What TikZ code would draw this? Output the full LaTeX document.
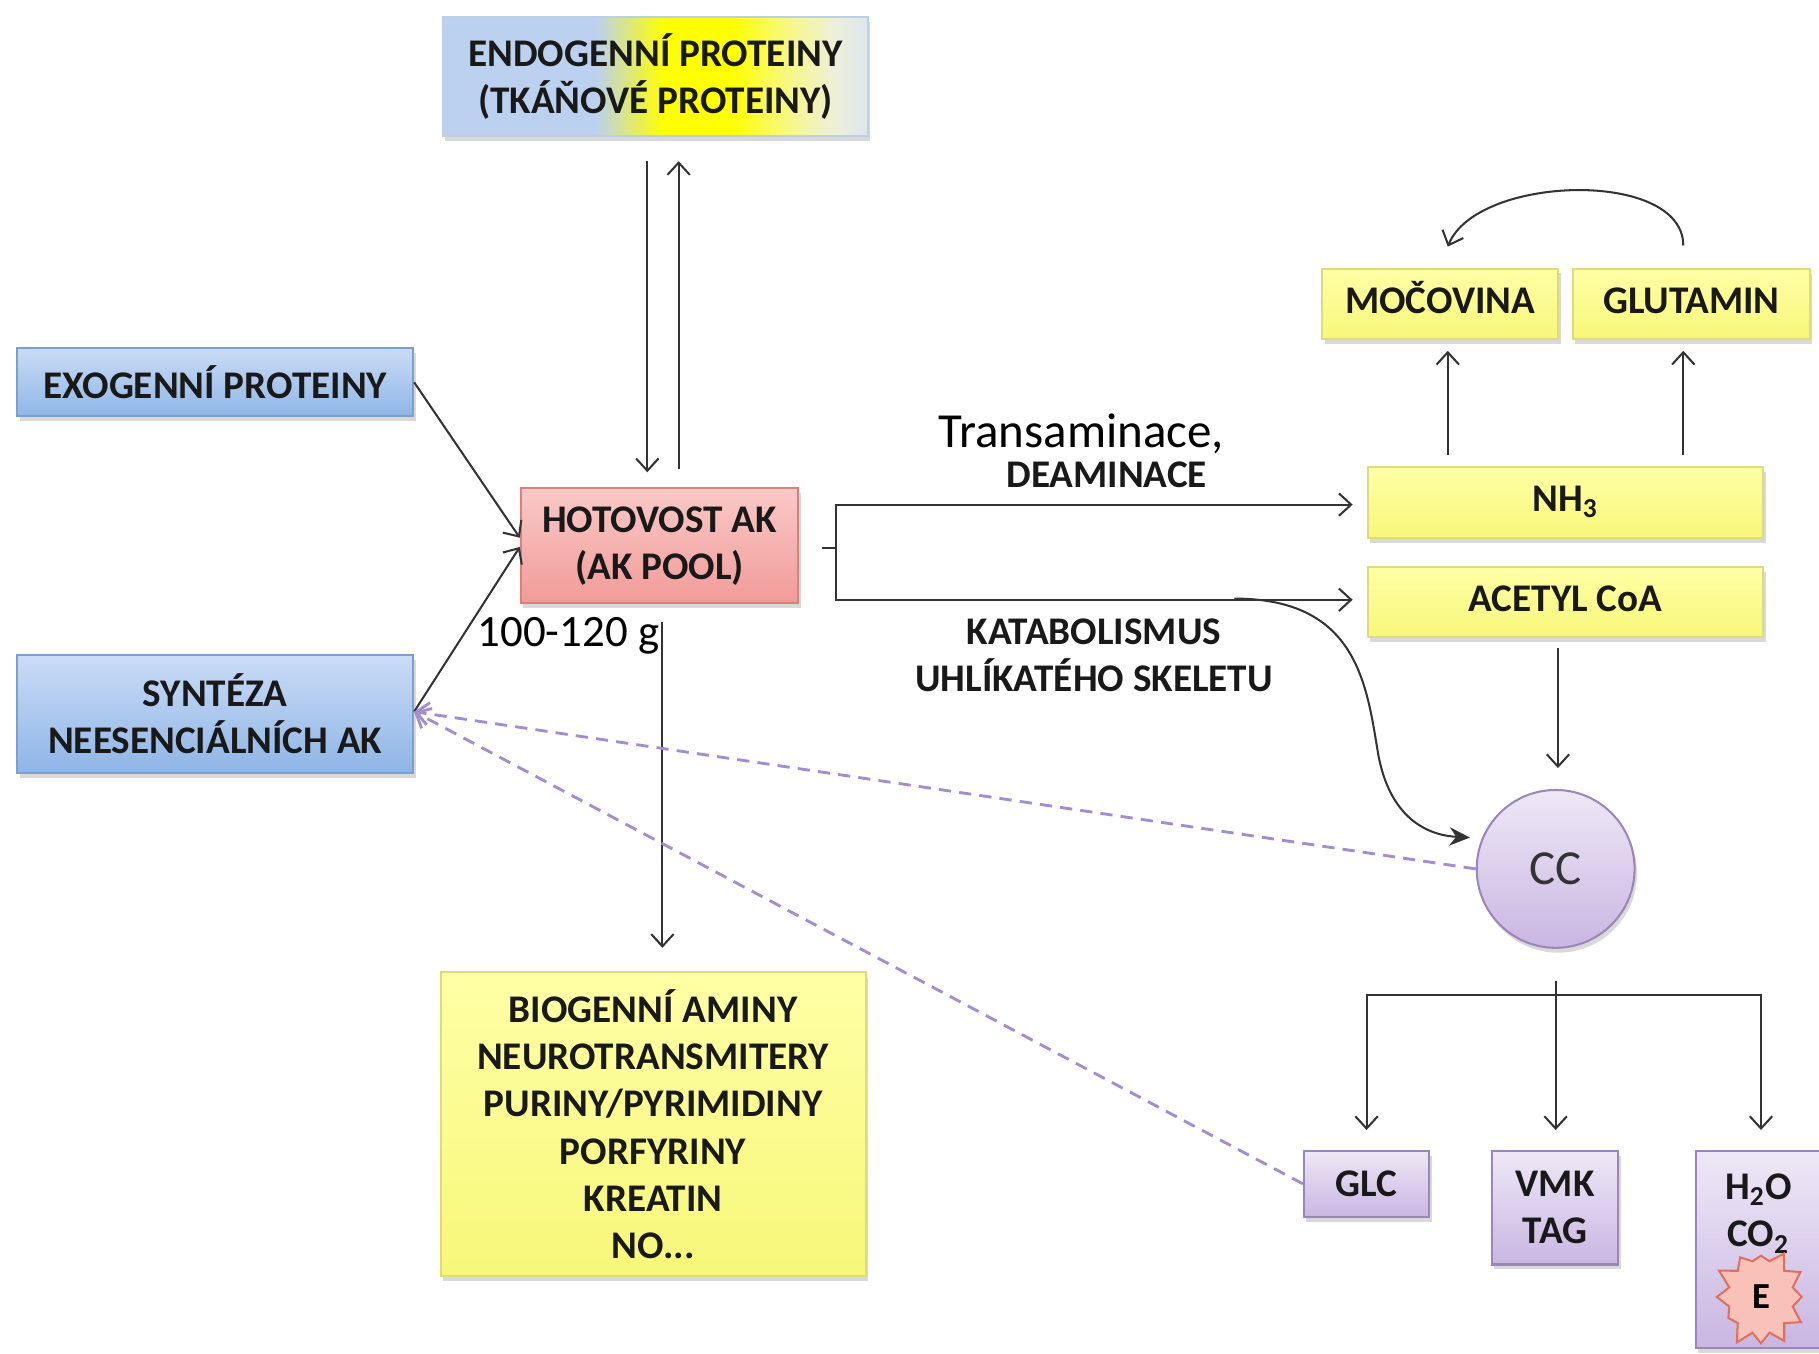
\documentclass[tikz,border=0pt]{standalone}
\usepackage{fontspec}
\setmainfont{Carlito}
\usetikzlibrary{calc,shadows,shapes.symbols,arrows.meta}

\definecolor{bluetop}{HTML}{CADCF6}
\definecolor{bluebot}{HTML}{8FB5E6}
\definecolor{blueedge}{HTML}{7C9FCB}
\definecolor{pinktop}{HTML}{F9C9C7}
\definecolor{pinkbot}{HTML}{F19B98}
\definecolor{pinkedge}{HTML}{D9807C}
\definecolor{yeltop}{HTML}{FFFFA6}
\definecolor{yelbot}{HTML}{F7F77A}
\definecolor{yeledge}{HTML}{DCDC7A}
\definecolor{purtop}{HTML}{EEE8F6}
\definecolor{purbot}{HTML}{C9B6E2}
\definecolor{puredge}{HTML}{9A86BA}
\definecolor{dashpur}{HTML}{A48CD2}
\definecolor{endoblue}{HTML}{BCD1F0}
\definecolor{endoyel}{HTML}{FFFF00}
\definecolor{endoyeltwo}{HTML}{F7F78C}
\definecolor{endopale}{HTML}{EEF0D8}
\definecolor{endogray}{HTML}{DDE6EE}
\definecolor{burst}{HTML}{F8C2B8}
\definecolor{burstedge}{HTML}{E0705E}

\pgfdeclarehorizontalshading{endoshade}{100bp}{color(0bp)=(endoblue); color(25bp)=(endoblue); color(43bp)=(endoblue); color(51bp)=(endoyel); color(59bp)=(endoyel); color(66bp)=(endoyeltwo); color(71bp)=(endopale); color(75bp)=(endogray); color(100bp)=(endogray)}

\begin{document}
\begin{tikzpicture}[x=0.01cm, y=-0.01cm, line width=0.5pt, draw=black!80,
		>={Straight Barb[length=3pt,width=5.5pt]},
		box/.style={rectangle, inner sep=0pt, align=center, text=black!90,
			font=\bfseries\fontsize{9.6}{11.6}\selectfont,
			drop shadow={opacity=0.3, shadow xshift=0.6pt, shadow yshift=-1.2pt}},
		bluebox/.style={box, draw=blueedge, top color=bluetop, bottom color=bluebot},
		pinkbox/.style={box, draw=pinkedge, top color=pinktop, bottom color=pinkbot},
		yelbox/.style={box, draw=yeledge, top color=yeltop, bottom color=yelbot},
		purbox/.style={box, draw=puredge, top color=purtop, bottom color=purbot},
		dashfb/.style={draw=dashpur, line width=0.7pt, dash pattern=on 3pt off 2pt},
		boldtext/.style={font=\bfseries\fontsize{9.6}{11.6}\selectfont, align=center, text=black!90}]
	\useasboundingbox (0,0) rectangle (1568,1167);

	\node[box, draw=blueedge!50, shading=endoshade, minimum width=3.66cm, minimum height=1.02cm] (endo) at (565,66) {ENDOGENNÍ PROTEINY\\(TKÁŇOVÉ PROTEINY)};
	\node[bluebox, minimum width=3.41cm, minimum height=0.59cm] (exo) at (185.5,329.5) {EXOGENNÍ PROTEINY};
	\node[bluebox, minimum width=3.41cm, minimum height=1.01cm] (synt) at (185.5,615.5) {SYNTÉZA\\NEESENCIÁLNÍCH AK};
	\node[pinkbox, minimum width=2.39cm, minimum height=0.99cm] (pool) at (568.5,470.5) {HOTOVOST AK\\(AK POOL)};
	\node[yelbox, minimum width=3.66cm, minimum height=2.62cm] (bio) at (563,969) {BIOGENNÍ AMINY\\NEUROTRANSMITERY\\PURINY/PYRIMIDINY\\PORFYRINY\\KREATIN\\NO...};
	\node[yelbox, minimum width=2.03cm, minimum height=0.61cm] (moc) at (1241.5,262) {\strut MOČOVINA};
	\node[yelbox, minimum width=2.04cm, minimum height=0.61cm] (glu) at (1458,262) {\strut GLUTAMIN};
	\node[yelbox, minimum width=3.41cm, minimum height=0.61cm] (nh) at (1349.5,433) {\strut NH\textsubscript{3}};
	\node[yelbox, minimum width=3.41cm, minimum height=0.60cm] (acetyl) at (1349.5,519) {\strut ACETYL CoA};
	\node[circle, draw=puredge, top color=purtop, bottom color=purbot, minimum size=1.36cm, inner sep=0pt,
		font=\fontsize{12}{14}\selectfont, text=black!80,
		drop shadow={opacity=0.3, shadow xshift=0.6pt, shadow yshift=-1.2pt}] (cc) at (1341,749) {CC};
	\node[purbox, minimum width=1.08cm, minimum height=0.57cm] (glc) at (1178,1020.5) {GLC};
	\node[purbox, minimum width=1.09cm, minimum height=0.98cm] (vmk) at (1340.5,1041) {VMK\\TAG};
	\node[purbox, minimum width=1.08cm, minimum height=1.70cm] (hoco) at (1516,1077) {H\textsubscript{2}O\\CO\textsubscript{2}\\[4pt]\strut};
	\node[starburst, draw=burstedge, fill=burst, inner sep=3.5pt,
		starburst points=12, starburst point height=0.14cm, random starburst=23,
		font=\bfseries\fontsize{9}{10}\selectfont] (en) at ($(hoco.center)+(2,41)$) {E};

	\node[font=\fontsize{12}{14}\selectfont] (trans) at (932,374) {Transaminace,};
	\node[boldtext] (deam) at (954,409) {DEAMINACE};
	\node[boldtext] (katab) at (943,565) {KATABOLISMUS\\UHLÍKATÉHO SKELETU};
	\node[font=\fontsize{11}{13}\selectfont] (gram) at (490,548) {100-120 g};

	\draw[->] ($(endo.south)+(-7,21)$) -- ($(endo.south |- pool.north)+(-7,-13)$);
	\draw[->] ($(endo.south |- pool.north)+(20,-16)$) -- ($(endo.south)+(20,21)$);
	\draw[->] (exo.east) -- ($(pool.west)+(0,-7)$);
	\draw[->] ($(synt.east)+(0,-2)$) -- ($(pool.west)+(0,1)$);
	\draw[->] ($(pool.south)+(2.5,15)$) -- ($(pool.south |- bio.north)+(2.5,-20)$);

	\coordinate (fork) at ($(pool.east)+(32,2)$);
	\draw ($(pool.east)+(20,2)$) -- (fork);
	\draw[->] (fork) |- ($(nh.west)+(-12,2)$);
	\draw[->] (fork) |- ($(acetyl.west)+(-12,-2)$);

	\draw[->] ($(nh.north)+(-101.5,-9)$) -- ($(moc.south)+(6.5,9)$);
	\draw[->] ($(nh.north)+(101.5,-9)$) -- ($(glu.south)+(-7,9)$);
	\draw[->] ($(glu.north)+(-7,-19)$) .. controls +(0,-66) and +(25,-62) .. ($(moc.north)+(6.5,-18)$);
	\draw[->] ($(acetyl.south)+(-6.5,9)$) -- ($(cc.north)+(2,-18)$);

	\coordinate (katab0) at ($(acetyl.west)+(-114,-3)$);
	\draw[-{Stealth[length=5pt,width=4.5pt]}] (katab0) .. controls (1170,516) and (1178,590) .. (1188,650)
		.. controls (1198,705) and (1230,720) .. ($(cc.west)+(-5,-27)$);

	\draw[dashfb, ->] (cc.west) -- ($(synt.east)+(0,-2)$);
	\draw[dashfb, ->] (glc.west) -- ($(synt.east)+(0,-2)$);

	\coordinate (tree) at ($(cc.south)+(0,40)$);
	\draw[->] ($(cc.south)+(0,28)$) -- ($(vmk.north)+(0.5,-17)$);
	\draw[->] (tree) -| ($(glc.north)+(0,-17)$);
	\draw[->] (tree) -| ($(hoco.north)+(2,-17)$);
\end{tikzpicture}
\end{document}
